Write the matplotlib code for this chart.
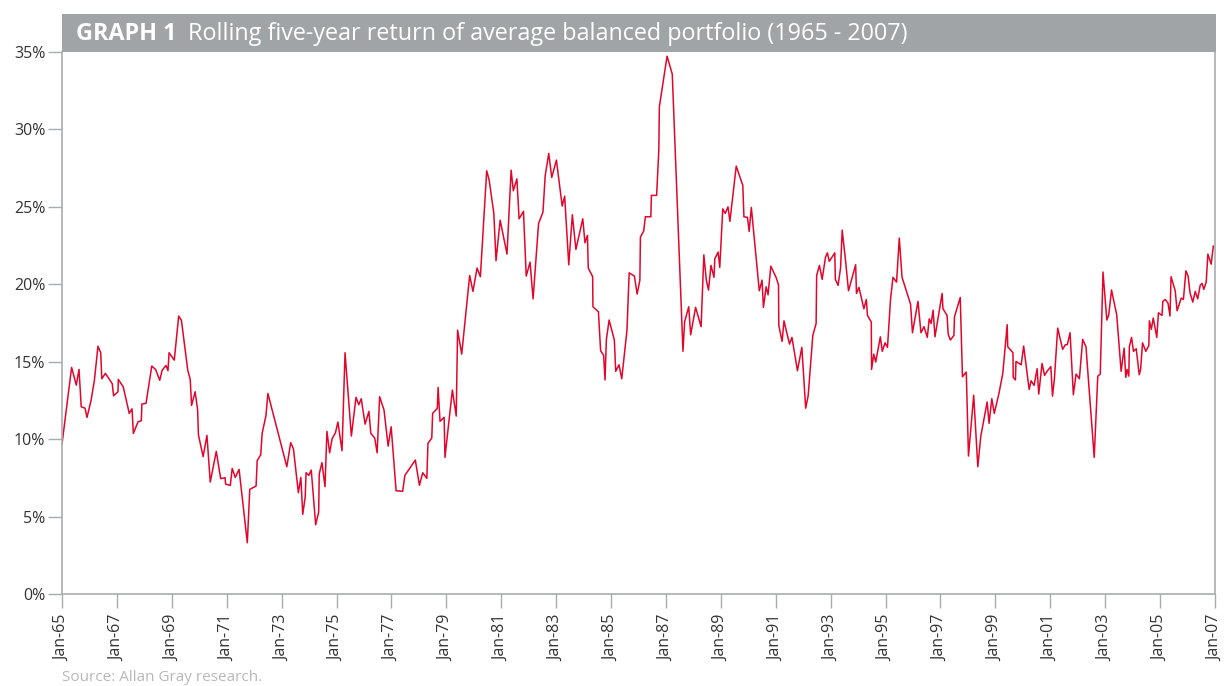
import matplotlib
matplotlib.use("Agg")
import matplotlib.pyplot as plt
from matplotlib.patches import Rectangle
from matplotlib.ticker import FuncFormatter

# decimal year of each turning point, and the rolling five-year return (%)
years = [
    1965.00, 1965.35, 1965.52, 1965.62, 1965.70, 1965.84, 1965.91, 1966.06, 1966.18, 1966.31,
    1966.41, 1966.45, 1966.58, 1966.83, 1966.88, 1967.04, 1967.05, 1967.23, 1967.45, 1967.55,
    1967.60, 1967.77, 1967.89, 1967.91, 1968.06, 1968.27, 1968.41, 1968.56, 1968.65, 1968.79,
    1968.86, 1968.90, 1969.09, 1969.25, 1969.35, 1969.58, 1969.67, 1969.72, 1969.85, 1969.94,
    1969.97, 1970.14, 1970.28, 1970.40, 1970.62, 1970.78, 1970.94, 1970.96, 1971.13, 1971.20,
    1971.31, 1971.45, 1971.75, 1971.84, 1972.07, 1972.11, 1972.24, 1972.29, 1972.43, 1972.50,
    1973.19, 1973.33, 1973.43, 1973.61, 1973.70, 1973.77, 1973.86, 1973.89, 1973.99, 1974.08,
    1974.24, 1974.35, 1974.37, 1974.47, 1974.58, 1974.65, 1974.75, 1974.84, 1974.96, 1975.05,
    1975.20, 1975.31, 1975.54, 1975.71, 1975.81, 1975.90, 1976.04, 1976.18, 1976.25, 1976.39,
    1976.48, 1976.57, 1976.73, 1976.88, 1976.99, 1977.17, 1977.41, 1977.49, 1977.87, 1978.02,
    1978.14, 1978.29, 1978.33, 1978.47, 1978.50, 1978.67, 1978.70, 1978.77, 1978.92, 1978.95,
    1979.22, 1979.36, 1979.41, 1979.56, 1979.85, 1979.97, 1980.12, 1980.24, 1980.47, 1980.56,
    1980.73, 1980.81, 1980.96, 1981.21, 1981.36, 1981.44, 1981.57, 1981.65, 1981.81, 1981.91,
    1982.05, 1982.16, 1982.36, 1982.52, 1982.60, 1982.73, 1982.84, 1983.01, 1983.22, 1983.31,
    1983.46, 1983.59, 1983.72, 1983.97, 1984.05, 1984.14, 1984.17, 1984.33, 1984.34, 1984.54,
    1984.62, 1984.73, 1984.78, 1984.83, 1984.93, 1985.12, 1985.17, 1985.29, 1985.39, 1985.58,
    1985.66, 1985.85, 1985.95, 1986.05, 1986.07, 1986.19, 1986.25, 1986.45, 1986.47, 1986.66,
    1986.74, 1986.76, 1987.04, 1987.23, 1987.62, 1987.68, 1987.83, 1987.90, 1988.08, 1988.28,
    1988.38, 1988.47, 1988.55, 1988.64, 1988.75, 1988.78, 1988.90, 1988.96, 1989.07, 1989.16,
    1989.26, 1989.33, 1989.56, 1989.80, 1989.84, 1989.97, 1990.03, 1990.11, 1990.40, 1990.50,
    1990.55, 1990.65, 1990.72, 1990.82, 1991.01, 1991.10, 1991.11, 1991.23, 1991.30, 1991.50,
    1991.59, 1991.79, 1991.95, 1992.09, 1992.18, 1992.35, 1992.47, 1992.49, 1992.59, 1992.69,
    1992.81, 1992.88, 1992.95, 1993.15, 1993.17, 1993.27, 1993.36, 1993.42, 1993.54, 1993.65,
    1993.91, 1993.94, 1994.03, 1994.21, 1994.30, 1994.34, 1994.48, 1994.49, 1994.57, 1994.64,
    1994.81, 1994.88, 1994.98, 1995.07, 1995.18, 1995.27, 1995.40, 1995.50, 1995.60, 1995.91,
    1995.98, 1996.18, 1996.29, 1996.40, 1996.52, 1996.59, 1996.66, 1996.73, 1996.80, 1997.06,
    1997.09, 1997.24, 1997.28, 1997.36, 1997.49, 1997.51, 1997.72, 1997.80, 1997.94, 1998.02,
    1998.21, 1998.36, 1998.47, 1998.70, 1998.77, 1998.87, 1998.96, 1999.13, 1999.27, 1999.43,
    1999.45, 1999.64, 1999.65, 1999.73, 1999.75, 1999.94, 2000.03, 2000.23, 2000.30, 2000.41,
    2000.52, 2000.58, 2000.70, 2000.79, 2000.90, 2001.02, 2001.08, 2001.15, 2001.27, 2001.45,
    2001.55, 2001.62, 2001.72, 2001.84, 2001.94, 2002.06, 2002.18, 2002.30, 2002.60, 2002.73,
    2002.82, 2002.92, 2003.06, 2003.13, 2003.23, 2003.42, 2003.58, 2003.69, 2003.75, 2003.80,
    2003.86, 2003.88, 2003.96, 2004.03, 2004.13, 2004.24, 2004.29, 2004.36, 2004.48, 2004.59,
    2004.61, 2004.68, 2004.75, 2004.88, 2004.94, 2005.07, 2005.10, 2005.19, 2005.29, 2005.36,
    2005.40, 2005.55, 2005.62, 2005.77, 2005.85, 2005.94, 2006.02, 2006.09, 2006.19, 2006.28,
    2006.37, 2006.46, 2006.53, 2006.59, 2006.68, 2006.74, 2006.86, 2006.94,
]
returns = [
    9.68, 14.63, 13.49, 14.50, 12.09, 12.00, 11.40, 12.52, 13.80, 16.00,
    15.58, 13.90, 14.25, 13.58, 12.80, 13.06, 13.86, 13.38, 11.66, 11.96,
    10.37, 11.12, 11.19, 12.27, 12.31, 14.72, 14.50, 13.80, 14.46, 14.76,
    14.42, 15.58, 15.10, 17.95, 17.67, 14.46, 13.86, 12.18, 13.06, 11.88,
    10.28, 8.87, 10.24, 7.23, 9.21, 7.45, 7.51, 7.10, 7.01, 8.11,
    7.53, 8.05, 3.31, 6.76, 6.97, 8.61, 9.00, 10.37, 11.53, 12.95,
    8.22, 9.77, 9.38, 6.54, 7.53, 5.14, 6.28, 7.83, 7.66, 8.00,
    4.47, 5.29, 7.75, 8.48, 6.93, 10.50, 9.12, 10.03, 10.41, 11.10,
    9.25, 15.58, 10.20, 12.70, 12.22, 12.61, 10.97, 11.79, 10.37, 10.07,
    9.12, 12.74, 11.88, 9.55, 10.80, 6.67, 6.63, 7.66, 8.65, 7.02,
    7.83, 7.47, 9.73, 10.07, 11.66, 11.99, 13.34, 11.15, 11.41, 8.82,
    13.17, 11.49, 17.04, 15.49, 20.57, 19.54, 21.05, 20.49, 27.33, 26.73,
    24.58, 21.52, 24.14, 21.95, 27.37, 26.04, 26.81, 24.23, 24.71, 20.53,
    21.43, 19.06, 23.93, 24.66, 26.99, 28.45, 26.90, 28.02, 25.05, 25.69,
    21.26, 24.49, 22.25, 24.23, 22.68, 23.16, 21.05, 20.49, 18.55, 18.23,
    15.71, 15.41, 13.82, 16.44, 17.69, 16.40, 14.38, 14.80, 13.90, 17.04,
    20.74, 20.53, 19.37, 20.27, 23.05, 23.45, 24.36, 24.36, 25.74, 25.74,
    28.66, 31.46, 34.73, 33.57, 15.67, 17.58, 18.55, 16.74, 18.51, 17.26,
    21.90, 20.27, 19.63, 21.22, 20.45, 21.65, 22.08, 21.09, 24.87, 24.58,
    25.00, 24.06, 27.63, 26.38, 24.36, 24.32, 23.41, 24.96, 19.58, 20.27,
    18.51, 19.84, 19.32, 21.17, 20.45, 19.97, 17.35, 16.31, 17.64, 16.14,
    16.57, 14.42, 15.93, 12.00, 12.80, 16.70, 17.47, 20.57, 21.22, 20.32,
    21.74, 22.03, 21.48, 22.03, 20.32, 19.93, 21.05, 23.50, 21.56, 19.58,
    21.26, 19.41, 19.80, 18.42, 19.02, 17.99, 17.56, 14.50, 15.49, 14.98,
    16.61, 15.67, 16.22, 15.93, 19.02, 20.45, 20.14, 22.98, 20.45, 18.72,
    16.87, 18.90, 16.87, 17.26, 16.57, 17.77, 17.47, 18.33, 16.61, 19.41,
    18.42, 17.99, 16.79, 16.40, 16.70, 17.90, 19.15, 14.03, 14.33, 8.91,
    12.83, 8.22, 10.20, 12.40, 11.02, 12.61, 11.66, 12.95, 14.25, 17.39,
    15.97, 15.58, 13.99, 13.82, 15.02, 14.80, 16.01, 13.21, 13.77, 13.47,
    14.55, 12.91, 14.89, 14.12, 14.42, 14.68, 12.78, 13.90, 17.17, 15.80,
    16.10, 16.10, 16.87, 12.87, 14.20, 13.90, 16.44, 15.97, 8.82, 14.07,
    14.20, 20.79, 17.69, 18.03, 19.63, 18.03, 14.38, 15.88, 13.99, 14.50,
    14.07, 15.97, 16.57, 15.67, 15.84, 14.16, 14.50, 16.22, 15.67, 16.05,
    17.64, 17.09, 17.82, 16.57, 18.16, 17.99, 18.90, 19.02, 18.77, 17.95,
    20.49, 19.58, 18.29, 19.11, 19.02, 20.87, 20.53, 19.45, 18.85, 19.54,
    19.06, 19.93, 20.06, 19.67, 20.14, 21.95, 21.30, 22.47,
]

tick_years = list(range(1965, 2008, 2))
tick_labels = [f"Jan-{y % 100:02d}" for y in tick_years]
y_ticks = [0, 5, 10, 15, 20, 25, 30, 35]

title_bold = "GRAPH 1"
title_rest = "Rolling five-year return of average balanced portfolio (1965 - 2007)"
source = "Source: Allan Gray research."

plt.rcParams["font.family"] = ["Open Sans", "DejaVu Sans"]

W, H = 1231, 686
fig = plt.figure(figsize=(W / 100, H / 100), dpi=100)
ax = fig.add_axes([62 / W, 1 - 594 / H, (1215 - 62) / W, (594 - 52) / H])

ax.plot(years, returns, color="#E2062C", linewidth=1.1)

ax.set_xlim(1965, 2007)
ax.set_ylim(0, 35)
ax.set_xticks(tick_years)
ax.set_xticklabels(tick_labels, rotation=90)
ax.set_yticks(y_ticks)
ax.yaxis.set_major_formatter(FuncFormatter(lambda v, p: f"{v:.0f}%"))

grey = "#A9ACAF"
for side in ["left", "right", "bottom"]:
    ax.spines[side].set_color(grey)
    ax.spines[side].set_linewidth(1.2)
ax.spines["top"].set_visible(False)
ax.tick_params(axis="both", colors=grey, length=10, width=1.0,
               labelcolor="#333333", labelsize=11.5)
ax.tick_params(axis="x", pad=5)
ax.tick_params(axis="y", pad=2)

# grey title bar over the top of the plot
fig.patches.append(Rectangle((62 / W, 1 - 52 / H), (1216 - 62) / W, 38 / H,
                             transform=fig.transFigure, facecolor="#A0A4A7",
                             edgecolor="none", zorder=5))
t1 = fig.text(76 / W, 1 - 34 / H, title_bold, color="white", fontsize=16.8,
              fontweight="bold", va="center", ha="left", zorder=6)
renderer = fig.canvas.get_renderer()
bb = t1.get_window_extent(renderer)
fig.text((bb.x1 + 12) / W, 1 - 34 / H, title_rest, color="white", fontsize=16.8,
         va="center", ha="left", zorder=6)

fig.text(62 / W, 1 - 670 / H, source, color="#B8B8B8", fontsize=11,
         va="top", ha="left")

fig.savefig("out.png", dpi=100)
